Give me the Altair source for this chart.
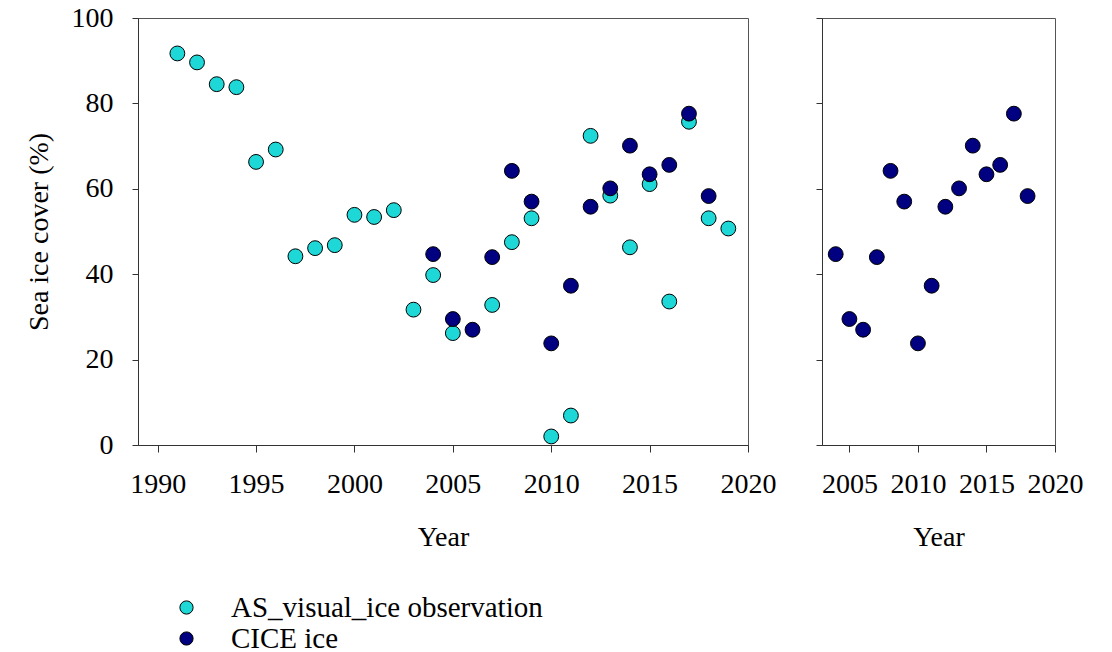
import altair as alt
import pandas as pd

# ---- data ----
series_names = ["AS_visual_ice observation", "CICE ice"]
series_colors = ["#1ed8d8", "#000080"]

vis_years = [1991, 1992, 1993, 1994, 1995, 1996, 1997, 1998, 1999, 2000,
             2001, 2002, 2003, 2004, 2005, 2007, 2008, 2009, 2010, 2011,
             2012, 2013, 2014, 2015, 2016, 2017, 2018, 2019]
vis_values = [91.7, 89.6, 84.5, 83.8, 66.3, 69.2, 44.2, 46.1, 46.8, 53.9,
              53.4, 55.0, 31.7, 39.8, 26.2, 32.8, 47.5, 53.1, 2.0, 6.9,
              72.4, 58.4, 46.3, 61.1, 33.6, 75.7, 53.1, 50.7]

cice_years = [2004, 2005, 2006, 2007, 2008, 2009, 2010, 2011, 2012, 2013,
              2014, 2015, 2016, 2017, 2018]
cice_values = [44.7, 29.5, 27.0, 44.0, 64.2, 57.0, 23.8, 37.3, 55.8, 60.1,
               70.1, 63.4, 65.6, 77.6, 58.3]

left_ticks = [1990, 1995, 2000, 2005, 2010, 2015, 2020]
right_ticks = [2005, 2010, 2015, 2020]
y_ticks = [0, 20, 40, 60, 80, 100]

df_vis = pd.DataFrame({"Year": vis_years, "Cover": vis_values,
                       "Series": series_names[0], "Rank": 0})
df_cice = pd.DataFrame({"Year": cice_years, "Cover": cice_values,
                        "Series": series_names[1], "Rank": 1})
df_all = pd.concat([df_vis, df_cice], ignore_index=True)

FONT = "Liberation Serif"
AX = "#333333"
FS = 28

color = alt.Color(
    "Series:N",
    scale=alt.Scale(domain=series_names, range=series_colors),
    legend=alt.Legend(
        title=None, orient="none", legendX=34, legendY=575,
        labelFont=FONT, labelFontSize=29, labelColor="black", labelLimit=0,
        symbolType="circle", symbolSize=175, symbolStrokeColor="black",
        symbolStrokeWidth=1, symbolOpacity=1, labelOffset=30, rowPadding=1,
    ),
)

def xaxis(ticks):
    return alt.Axis(values=ticks, format="d", title="Year", grid=False,
                    labelFont=FONT, labelFontSize=FS, labelColor="black",
                    labelOverlap=False, labelFlush=False,
                    titleFont=FONT, titleFontSize=FS, titleFontWeight="normal",
                    titleColor="black", tickSize=7, tickColor=AX,
                    domainColor=AX, labelPadding=18, titlePadding=25)

left = alt.Chart(df_all).mark_circle(
    size=220, opacity=1, stroke="black", strokeWidth=1
).encode(
    x=alt.X("Year:Q", scale=alt.Scale(domain=[1989, 2020], nice=False, zero=False),
            axis=xaxis(left_ticks)),
    y=alt.Y("Cover:Q", scale=alt.Scale(domain=[0, 100], nice=False),
            axis=alt.Axis(values=y_ticks, title="Sea ice cover (%)", grid=False,
                          labelFont=FONT, labelFontSize=FS, labelColor="black",
                          titleFont=FONT, titleFontSize=FS, titleFontWeight="normal",
                          titleColor="black", tickSize=6, tickColor=AX,
                          domainColor=AX, labelPadding=19, titlePadding=18)),
    color=color,
    order=alt.Order("Rank:Q"),
).properties(width=610, height=427)

right = alt.Chart(df_cice).mark_circle(
    size=220, opacity=1, stroke="black", strokeWidth=1
).encode(
    x=alt.X("Year:Q", scale=alt.Scale(domain=[2003, 2020], nice=False, zero=False),
            axis=xaxis(right_ticks)),
    y=alt.Y("Cover:Q", scale=alt.Scale(domain=[0, 100], nice=False),
            axis=alt.Axis(values=y_ticks, title=None, labels=False, grid=False,
                          tickSize=6, tickColor=AX, domainColor=AX)),
    color=color,
).properties(width=233, height=427)

chart = alt.hconcat(left, right, spacing=38).properties(
    padding={"left": 24, "top": 3, "right": 5, "bottom": 5},
    background="white",
).configure_view(stroke="#555555", strokeWidth=1)

chart.save("out.html", embed_options={"renderer": "svg", "actions": False})
